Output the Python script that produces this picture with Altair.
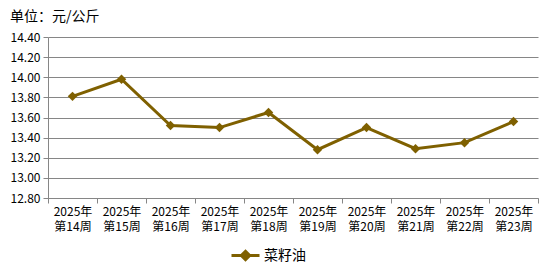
import altair as alt
import pandas as pd

weeks = ["2025年第14周", "2025年第15周", "2025年第16周", "2025年第17周", "2025年第18周",
         "2025年第19周", "2025年第20周", "2025年第21周", "2025年第22周", "2025年第23周"]
prices = [13.81, 13.98, 13.52, 13.50, 13.65, 13.28, 13.50, 13.29, 13.35, 13.56]
series_name = "菜籽油"
y_ticks = [12.8, 13.0, 13.2, 13.4, 13.6, 13.8, 14.0, 14.2, 14.4]

COLOR = "#7f6000"
FONT = "Noto Sans CJK SC"

df = pd.DataFrame({"week": weeks, "price": prices, "series": [series_name] * len(weeks)})

x_enc = alt.X(
    "week:N",
    sort=weeks,
    bandPosition=0.5,
    scale=alt.Scale(type="band", paddingInner=0, paddingOuter=0),
    axis=alt.Axis(
        title=None,
        labelAngle=0,
        labelExpr="[slice(datum.label, 0, 5), slice(datum.label, 5)]",
        labelLineHeight=15,
        tickBand="extent",
        tickSize=5,
        tickColor="#868686",
        domainColor="#868686",
        labelPadding=3,
        labelFontSize=12,
        labelColor="#000000",
        labelBaseline="top",
        grid=False,
    ),
)
y_enc = alt.Y(
    "price:Q",
    scale=alt.Scale(domain=[12.8, 14.4], nice=False, zero=False),
    axis=alt.Axis(
        title=None,
        values=y_ticks,
        format=".2f",
        tickSize=5,
        tickColor="#868686",
        domainColor="#868686",
        gridColor="#868686",
        gridWidth=1,
        labelPadding=3,
        labelFontSize=12,
        labelColor="#000000",
    ),
)
color_enc = alt.Color(
    "series:N",
    scale=alt.Scale(range=[COLOR]),
    legend=alt.Legend(
        title=None,
        orient="none",
        legendX=182,
        legendY=203,
        symbolType="M-1,0L1,0M0,-0.3L0.3,0L0,0.3L-0.3,0Z",
        symbolSize=784,
        symbolStrokeWidth=3,
        symbolFillColor=COLOR,
        symbolStrokeColor=COLOR,
        labelFontSize=14,
        labelColor="#000000",
        labelOffset=3,
    ),
)

line = alt.Chart(df).mark_line(strokeWidth=3).encode(x=x_enc, y=y_enc, color=color_enc)
points = alt.Chart(df).mark_point(shape="diamond", filled=True, size=90, opacity=1).encode(
    x=x_enc, y=y_enc, color=color_enc
)

chart = (
    alt.layer(line, points)
    .properties(
        width=490,
        height=161,
        autosize=alt.AutoSizeParams(type="none"),
        padding={"left": 48, "top": 37, "right": 10, "bottom": 78},
        title=alt.TitleParams(
            "单位：元/公斤",
            anchor="start",
            frame="group",
            dx=-38,
            offset=7,
            fontSize=14,
            fontWeight="normal",
            color="#000000",
            font=FONT,
        ),
        background="white",
    )
    .configure(font=FONT)
    .configure_view(stroke=None)
)

chart.save("out.html", embed_options={"renderer": "svg", "actions": False})
